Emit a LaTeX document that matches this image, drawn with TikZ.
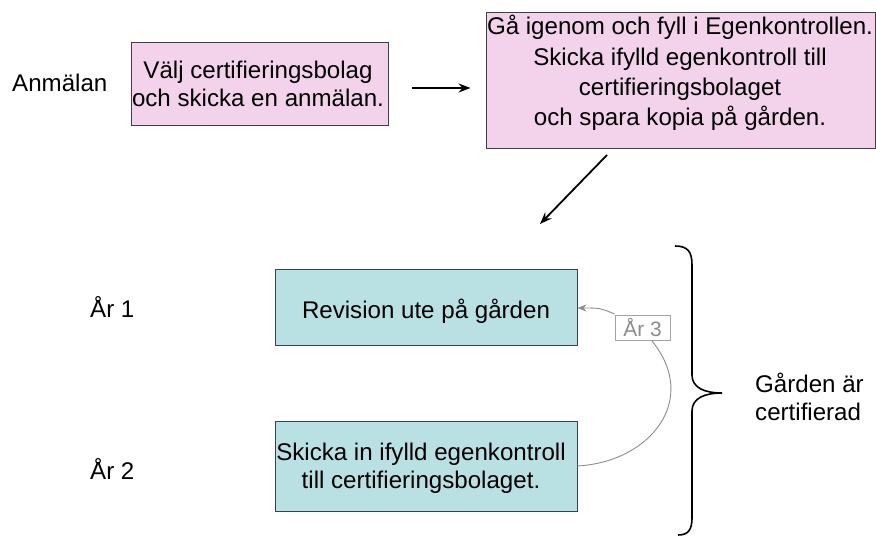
\documentclass[tikz,border=0pt]{standalone}
\usepackage{fontspec}
\setmainfont{Liberation Sans}
\usetikzlibrary{arrows.meta}
\definecolor{pinkfill}{HTML}{F3D3EB}
\definecolor{tealfill}{HTML}{B9E1E3}
\definecolor{edgegray}{HTML}{404040}
\definecolor{curvegray}{HTML}{8C8C8C}
\begin{document}
\begin{tikzpicture}[x=1bp,y=-1bp,
  txt/.style={inner sep=0pt, font=\fontsize{24.2}{27.5}\selectfont, align=center},
  pinkbox/.style={draw=edgegray, line width=0.9bp, fill=pinkfill, inner sep=0pt},
  tealbox/.style={draw=edgegray, line width=0.9bp, fill=tealfill, inner sep=0pt},
  flowarrow/.style={-{Stealth[length=12bp,width=9bp,inset=4bp]}, line width=1.8bp, black},
  grayarrow/.style={-{Stealth[length=9bp,width=7bp]}, line width=0.9bp, curvegray}
]
\useasboundingbox (0,0) rectangle (876,536);
% side labels
\node[txt, anchor=base west] (anm) at (12,92) {Anmälan};
\node[txt, anchor=base west] (ar1) at (90,318) {År 1};
\node[txt, anchor=base west] (ar2) at (90,479) {År 2};
\node[txt, anchor=base west, align=left] (cert) at (755,420) {Gården är\\certifierad};
% boxes
\node[pinkbox, minimum width=257bp, minimum height=83bp] (b1) at (259.5,83.5) {};
\node[txt] (b1t) at (258,84) {Välj certifieringsbolag\\och skicka en anmälan.};
\node[pinkbox, minimum width=389bp, minimum height=136bp] (b2) at (680.5,80) {};
\node[txt, font=\fontsize{24.2}{30.3}\selectfont] (b2t) at (680,73) {Gå igenom och fyll i Egenkontrollen.\\Skicka ifylld egenkontroll till\\certifieringsbolaget\\och spara kopia på gården.};
\node[tealbox, minimum width=302bp, minimum height=76bp] (b3) at (426,307) {};
\node[txt] (b3t) at (426,311) {Revision ute på gården};
\node[tealbox, minimum width=302bp, minimum height=90bp] (b4) at (426,466) {};
\node[txt, font=\fontsize{24.2}{28}\selectfont] (b4t) at (421,468) {Skicka in ifylld egenkontroll\\till certifieringsbolaget.};
\node[draw=curvegray!80, line width=0.8bp, text=curvegray, inner sep=0pt, minimum width=55bp, minimum height=25bp, font=\fontsize{21}{24}\selectfont] (ar3) at (642.5,327.5) {År 3};
% connectors
\draw[flowarrow, shorten <=24bp, shorten >=15bp] (b1.east |- 0,88) coordinate (a1s) -- (b2.west |- 0,88) coordinate (a1e);
\coordinate (a2s) at (607,155);
\coordinate (a2e) at (540,224);
\draw[flowarrow] (a2s) -- (a2e);
\draw[curvegray, line width=0.9bp] (b4.east) .. controls (650,462) and (700,400) .. (652,341);
\draw[grayarrow] (ar3.west |- 0,314) .. controls (600,308) .. (b3.east |- 0,308);
% brace
\draw[black, line width=1.6bp] (675,246) .. controls (688,246) and (692,252) .. (692,265)
  -- (692,375) .. controls (692,388) and (705,393) .. (722,393)
  .. controls (705,393) and (692,398) .. (692,411)
  -- (692,518) .. controls (692,530) and (688,535) .. (678,535);
\end{tikzpicture}
\end{document}
